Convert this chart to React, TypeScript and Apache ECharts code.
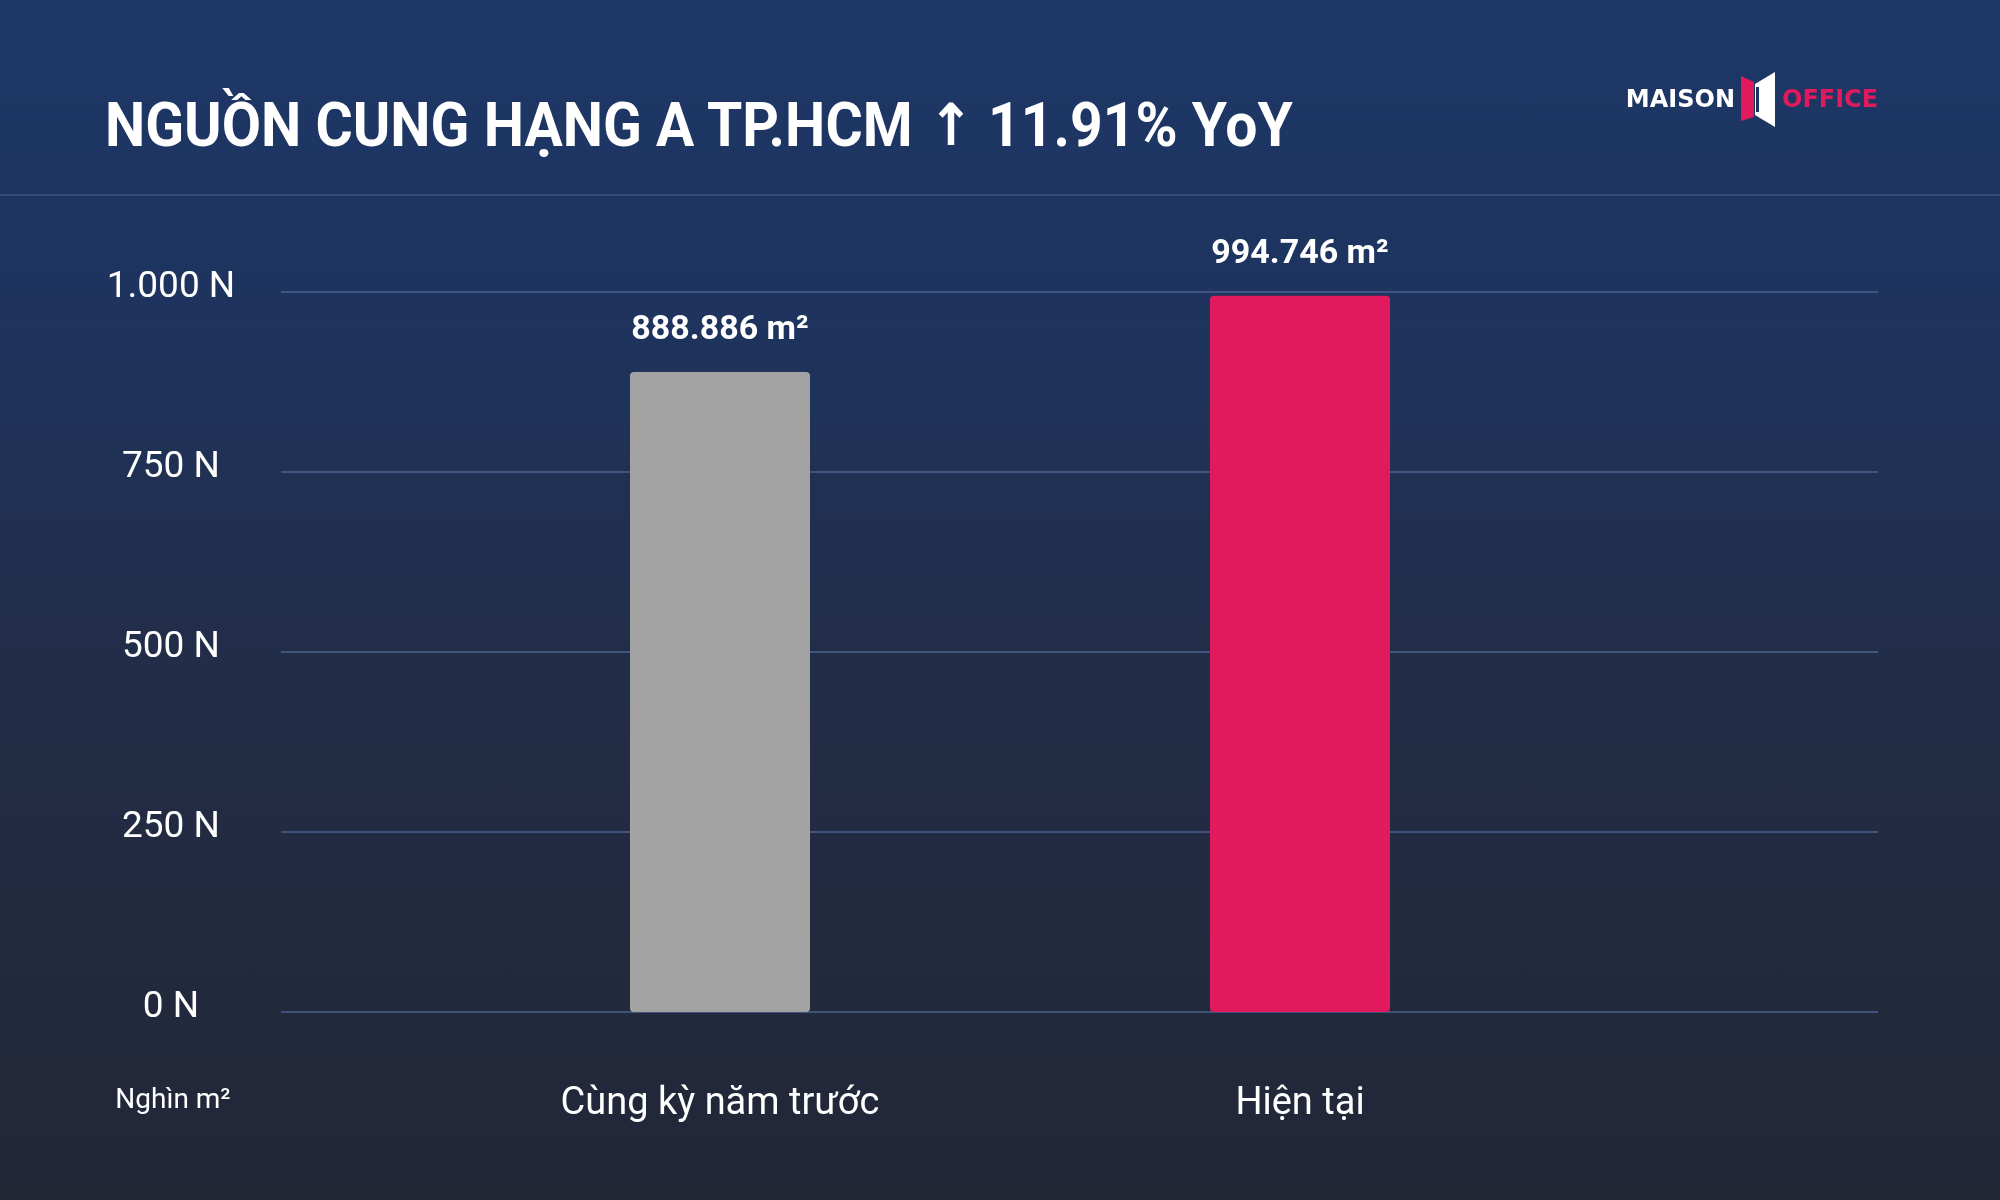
import React, { useEffect, useRef } from 'react';
import * as echarts from 'echarts';

// ---- data ----
const categories = ['Cùng kỳ năm trước', 'Hiện tại'];
const supplyM2 = [888886, 994746];
const barColors = ['#a4a3a4', '#e11a5e'];
const yMin = 0;
const yMax = 1000000;
const yInterval = 250000;
const titleText = 'NGUỒN CUNG HẠNG A TP.HCM ↑ 11.91% YoY';
const unitLabel = 'Nghìn m²';
const logoLeft = 'MAISON';
const logoRight = 'OFFICE';

function dots(n: number): string {
  return String(Math.round(n)).replace(/\B(?=(\d{3})+(?!\d))/g, '.');
}

export default function App() {
  const ref = useRef<HTMLDivElement>(null);
  useEffect(() => {
    if (!ref.current) return;
    const chart = echarts.init(ref.current, undefined, { renderer: 'svg' });
    const gridTop = 292;
    const gridBottom = 188;
    const richTitle = titleText.replace('↑', '{a|↑}');
    const option: any = {
      animation: false,
      textStyle: { fontFamily: 'Roboto' },
      grid: [
        { left: 281, right: 122, top: gridTop, bottom: gridBottom },
        { left: 430, right: 410, top: gridTop, bottom: gridBottom },
      ],
      xAxis: [
        { type: 'category', gridIndex: 0, data: categories, show: false },
        {
          type: 'category',
          gridIndex: 1,
          data: categories,
          axisLine: { show: false },
          axisTick: { show: false },
          axisLabel: {
            color: '#ffffff',
            fontSize: 38,
            fontFamily: 'Roboto',
            margin: 70,
          },
        },
      ],
      yAxis: [
        {
          type: 'value',
          gridIndex: 0,
          min: yMin,
          max: yMax,
          interval: yInterval,
          axisLine: { show: false },
          axisTick: { show: false },
          splitLine: { lineStyle: { color: '#4b6290', width: 1.5 } },
          axisLabel: {
            color: '#ffffff',
            fontSize: 37,
            fontFamily: 'Roboto',
            align: 'center',
            verticalAlign: 'bottom',
            lineHeight: 16,
            margin: 110,
            formatter: (v: number) => dots(v / 1000) + ' N',
          },
        },
        {
          type: 'value',
          gridIndex: 1,
          min: yMin,
          max: yMax,
          interval: yInterval,
          show: false,
        },
      ],
      graphic: [
        {
          type: 'rect',
          z: -100,
          silent: true,
          shape: { x: 0, y: 0, width: 2000, height: 1200 },
          style: {
            fill: new echarts.graphic.LinearGradient(0, 0, 0, 1, [
              { offset: 0, color: '#1d3767' },
              { offset: 0.25, color: '#1e345f' },
              { offset: 0.55, color: '#222d48' },
              { offset: 1, color: '#222736' },
            ]),
          },
        },
        {
          type: 'line',
          z: -50,
          silent: true,
          shape: { x1: 0, y1: 195, x2: 2000, y2: 195 },
          style: { stroke: '#3f5685', lineWidth: 1.5 },
        },
        {
          type: 'text',
          x: 105,
          y: 125,
          scaleX: 0.935,
          style: {
            text: richTitle,
            fill: '#ffffff',
            fontSize: 61,
            fontWeight: 'bold',
            fontFamily: 'Roboto',
            verticalAlign: 'middle',
            rich: {
              a: {
                fill: '#ffffff',
                fontSize: 58,
                fontWeight: 'bold',
                fontFamily: 'DejaVu Sans',
              },
            },
          },
        },
        {
          type: 'text',
          x: 173,
          y: 1098,
          style: {
            text: unitLabel,
            fill: '#ffffff',
            fontSize: 28,
            fontFamily: 'Roboto',
            align: 'center',
            verticalAlign: 'middle',
          },
        },
        {
          type: 'text',
          x: 1735,
          y: 99,
          style: {
            text: logoLeft,
            fill: '#ffffff',
            fontSize: 24,
            fontWeight: 'bold',
            fontFamily: 'DejaVu Sans',
            align: 'right',
            verticalAlign: 'middle',
          },
        },
        {
          type: 'text',
          x: 1782,
          y: 99,
          style: {
            text: logoRight,
            fill: '#e11a5e',
            fontSize: 24,
            fontWeight: 'bold',
            fontFamily: 'DejaVu Sans',
            align: 'left',
            verticalAlign: 'middle',
          },
        },
        {
          type: 'polygon',
          shape: { points: [[1741, 76], [1754, 82], [1754, 117], [1741, 121]] },
          style: { fill: '#e11a5e' },
        },
        {
          type: 'polygon',
          shape: { points: [[1755, 84], [1775, 72], [1775, 127], [1755, 115]] },
          style: { fill: '#ffffff' },
        },
        {
          type: 'rect',
          shape: { x: 1756, y: 87, width: 3, height: 25 },
          style: { fill: '#1d3461' },
        },
      ],
      series: [
        {
          type: 'bar',
          xAxisIndex: 1,
          yAxisIndex: 1,
          barWidth: 180,
          data: supplyM2.map((v, i) => ({ value: v, itemStyle: { color: barColors[i] } })),
          itemStyle: { borderRadius: 4 },
          label: {
            show: true,
            position: 'top',
            distance: 28,
            color: '#ffffff',
            fontSize: 34,
            fontWeight: 'bold',
            fontFamily: 'Roboto',
            formatter: (p: any) => dots(p.value) + ' m²',
          },
        },
      ],
    };
    chart.setOption(option);
    return () => chart.dispose();
  }, []);
  return (
    <div
      ref={ref}
      style={{ position: 'fixed', left: 0, top: 0, width: 2000, height: 1200 }}
    />
  );
}
